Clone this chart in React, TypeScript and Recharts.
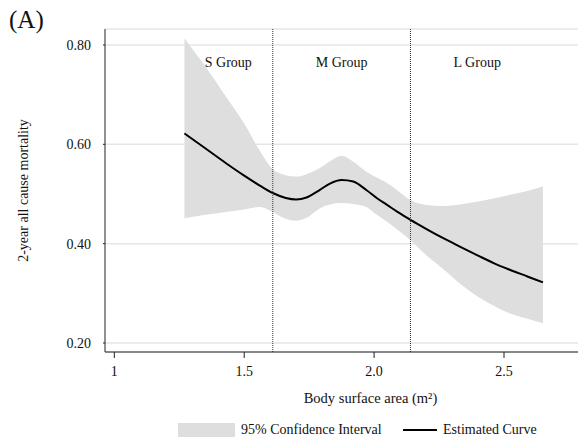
import React from 'react';
import {
  ComposedChart, Area, Line, XAxis, YAxis, CartesianGrid, ReferenceLine, ReferenceArea,
} from 'recharts';

const bsa = [1.27, 1.35, 1.43, 1.5, 1.56, 1.61, 1.66, 1.7, 1.74, 1.79, 1.83, 1.875, 1.92, 1.97, 2.01, 2.05, 2.09, 2.14, 2.2, 2.27, 2.33, 2.4, 2.46, 2.52, 2.59, 2.65];
const estimate = [0.622, 0.592, 0.562, 0.537, 0.517, 0.502, 0.492, 0.489, 0.493, 0.508, 0.521, 0.528, 0.525, 0.508, 0.492, 0.478, 0.464, 0.448, 0.43, 0.41, 0.394, 0.376, 0.361, 0.348, 0.334, 0.322];
const upper = [0.813, 0.757, 0.696, 0.642, 0.587, 0.55, 0.538, 0.535, 0.54, 0.552, 0.566, 0.577, 0.565, 0.545, 0.533, 0.522, 0.507, 0.488, 0.478, 0.476, 0.479, 0.485, 0.491, 0.498, 0.506, 0.515];
const lower = [0.451, 0.458, 0.464, 0.469, 0.474, 0.464, 0.45, 0.446, 0.452, 0.471, 0.479, 0.482, 0.48, 0.474, 0.458, 0.444, 0.428, 0.407, 0.377, 0.347, 0.32, 0.293, 0.275, 0.26, 0.249, 0.24];

const xTicks = [1, 1.5, 2.0, 2.5];
const xTickLabels = ['1', '1.5', '2.0', '2.5'];
const yTicks = [0.2, 0.4, 0.6, 0.8];

const cutoffs = [1.61, 2.14];
const groupNames = ['S Group', 'M Group', 'L Group'];
const groupBounds = [1.268, 1.61, 2.14, 2.654];

const data = bsa.map((x, i) => ({ x, est: estimate[i], ci: [lower[i], upper[i]] }));

const FONT = '"Liberation Serif", "Times New Roman", serif';

export default function App() {
  return (
    <div style={{ position: 'absolute', left: 0, top: 0, width: 578, height: 441, fontFamily: FONT, background: '#fff' }}>
      <ComposedChart
        width={578}
        height={441}
        data={data}
        margin={{ top: 29, right: 0, bottom: 0, left: 0 }}
        style={{ fontFamily: FONT }}
      >
        <CartesianGrid vertical={false} stroke="#e6e6e6" strokeWidth={1.5} />
        <XAxis
          type="number"
          dataKey="x"
          domain={[0.9642, 2.7848]}
          allowDataOverflow
          ticks={xTicks}
          tickFormatter={(v: number) => xTickLabels[xTicks.indexOf(v)] ?? String(v)}
          height={89}
          tickSize={6}
          tickMargin={8}
          stroke="#222"
          tick={{ fill: '#111', fontSize: 14, fontFamily: FONT }}
          label={{ value: 'Body surface area (m²)', position: 'insideTop', offset: 41, dx: 29, fill: '#111', fontSize: 14.5, fontFamily: FONT }}
        />
        <YAxis
          type="number"
          domain={[0.1819, 0.8322]}
          allowDataOverflow
          ticks={yTicks}
          tickFormatter={(v: number) => v.toFixed(2)}
          width={105}
          tickSize={2}
          tickMargin={12}
          stroke="#222"
          tick={{ fill: '#111', fontSize: 14, fontFamily: FONT }}
          label={{ value: '2-year all cause mortality', angle: -90, position: 'insideLeft', offset: 23, fill: '#111', fontSize: 14, fontFamily: FONT, style: { textAnchor: 'middle' } }}
        />
        <Area
          type="monotone"
          dataKey="ci"
          stroke="none"
          fill="#dedede"
          fillOpacity={1}
          isAnimationActive={false}
        />
        <Line
          type="monotone"
          dataKey="est"
          stroke="#000"
          strokeWidth={2}
          dot={false}
          isAnimationActive={false}
        />
        {cutoffs.map((c) => (
          <ReferenceLine key={c} x={c} stroke="#333" strokeWidth={1} strokeDasharray="1 1" />
        ))}
        {groupNames.map((g, i) => (
          <ReferenceArea
            key={g}
            x1={groupBounds[i]}
            x2={groupBounds[i + 1]}
            fill="none"
            stroke="none"
            label={{ value: g, position: 'insideTop', offset: 28, fill: '#111', fontSize: 14, fontFamily: FONT }}
          />
        ))}
      </ComposedChart>
      <div style={{ position: 'absolute', left: 9, top: 5, fontSize: 25, color: '#111', lineHeight: '30px' }}>(A)</div>
      <div style={{ position: 'absolute', left: 178, top: 423, width: 57, height: 14, background: '#dedede' }} />
      <div style={{ position: 'absolute', left: 241, top: 421, fontSize: 14, color: '#111', lineHeight: '18px', whiteSpace: 'nowrap' }}>95% Confidence Interval</div>
      <div style={{ position: 'absolute', left: 403, top: 429, width: 34, height: 2, background: '#000' }} />
      <div style={{ position: 'absolute', left: 443, top: 421, fontSize: 14, color: '#111', lineHeight: '18px', whiteSpace: 'nowrap' }}>Estimated Curve</div>
    </div>
  );
}
